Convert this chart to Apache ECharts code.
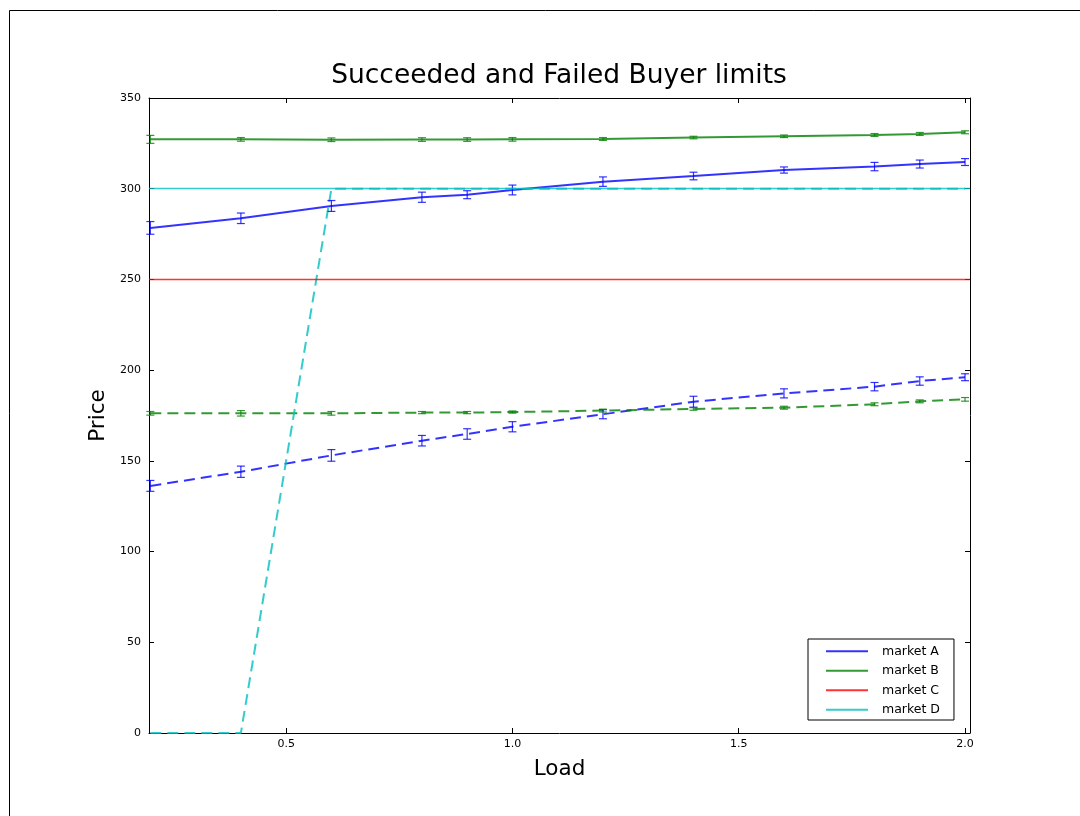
<!DOCTYPE html>
<html>
<head>
<meta charset="utf-8">
<script src="https://cdn.jsdelivr.net/npm/echarts@6/dist/echarts.min.js"></script>
<style>
  html, body { margin: 0; padding: 0; background: #fff; }
  #chart { width: 1080px; height: 816px; }
</style>
</head>
<body>
<div id="chart"></div>
<script>
// Load levels sampled
const loads = [0.2, 0.4, 0.6, 0.8, 0.9, 1.0, 1.2, 1.4, 1.6, 1.8, 1.9, 2.0];

// Succeeded buyer limits (solid) with error half-widths
const aSucc    = [278.4, 283.7, 290.5, 295.3, 296.7, 299.3, 303.9, 307.0, 310.3, 312.2, 313.6, 314.7];
const aSuccErr = [3.5, 2.9, 3.0, 2.8, 2.2, 2.7, 2.6, 2.1, 1.7, 2.3, 2.2, 1.9];
const bSucc    = [327.2, 327.2, 327.0, 327.1, 327.1, 327.2, 327.4, 328.2, 328.9, 329.6, 330.2, 331.1];
const bSuccErr = [2.2, 1.0, 1.0, 1.0, 1.0, 1.0, 0.8, 0.7, 0.7, 0.8, 0.8, 0.8];
const cLevel = 250;
const dLevel = 300;

// Failed buyer limits (dashed) with error half-widths
const aFail    = [136.2, 144.0, 153.0, 161.1, 164.8, 168.8, 175.7, 182.6, 187.2, 190.9, 194.0, 196.1];
const aFailErr = [3.0, 3.1, 3.2, 2.9, 2.9, 2.8, 2.5, 3.0, 2.5, 2.3, 2.3, 1.9];
const bFail    = [176.2, 176.2, 176.2, 176.6, 176.6, 176.9, 177.7, 178.6, 179.3, 181.2, 182.8, 183.9];
const bFailErr = [1.0, 1.5, 1.0, 0.6, 0.6, 0.6, 0.8, 0.7, 0.8, 0.8, 0.8, 1.0];
const dFail    = [0, 0, 300, 300, 300, 300, 300, 300, 300, 300, 300, 300];

// Axis ticks
const xTicks = [0.5, 1.0, 1.5, 2.0];
const legendNames = ['market A', 'market B', 'market C', 'market D'];

const BLUE = 'rgba(0,0,255,0.8)';
const GREEN = 'rgba(0,128,0,0.8)';
const RED = 'rgba(255,0,0,0.8)';
const CYAN = 'rgba(0,191,191,0.8)';
const FONT = 'DejaVu Sans';

function pairs(ys) { return loads.map((x, i) => [x, ys[i]]); }
function errRows(ys, errs) { return loads.map((x, i) => [x, ys[i] - errs[i], ys[i] + errs[i]]); }

function errorBars(name, ys, errs, color) {
  return {
    name: name,
    type: 'custom',
    silent: true,
    z: 3,
    data: errRows(ys, errs),
    renderItem: function (params, api) {
      const x = api.value(0);
      const lo = api.coord([x, api.value(1)]);
      const hi = api.coord([x, api.value(2)]);
      const cap = 4;
      const style = { stroke: color, lineWidth: 1.2, fill: null };
      return {
        type: 'group',
        children: [
          { type: 'line', shape: { x1: lo[0], y1: lo[1], x2: hi[0], y2: hi[1] }, style: style },
          { type: 'line', shape: { x1: lo[0] - cap, y1: lo[1], x2: lo[0] + cap, y2: lo[1] }, style: style },
          { type: 'line', shape: { x1: hi[0] - cap, y1: hi[1], x2: hi[0] + cap, y2: hi[1] }, style: style }
        ]
      };
    }
  };
}

function lineSeries(name, ys, color, dashed, width) {
  return {
    name: name,
    type: 'line',
    data: pairs(ys),
    symbol: 'none',
    color: color,
    z: 2,
    lineStyle: { color: color, width: width, type: dashed ? [11, 6] : 'solid' },
    emphasis: { disabled: true }
  };
}

function levelSeries(name, level, color) {
  return {
    name: name,
    type: 'line',
    data: [],
    symbol: 'none',
    color: color,
    lineStyle: { color: color, width: 1.3 },
    markLine: {
      silent: true,
      symbol: 'none',
      label: { show: false },
      lineStyle: { color: color, width: 1.3, type: 'solid' },
      data: [{ yAxis: level }]
    }
  };
}

const chart = echarts.init(document.getElementById('chart'), null, { renderer: 'canvas' });

const axisLine = { show: true, onZero: false, lineStyle: { color: '#000', width: 1 } };

chart.setOption({
  animation: false,
  backgroundColor: '#fff',
  textStyle: { fontFamily: FONT },
  title: {
    text: 'Succeeded and Failed Buyer limits',
    left: 559,
    textAlign: 'center',
    top: 63,
    padding: 0,
    textStyle: { fontFamily: FONT, fontSize: 26.5, fontWeight: 'normal', color: '#000' }
  },
  graphic: [{
    type: 'rect',
    shape: { x: 9.5, y: 10.5, width: 1200, height: 1000 },
    style: { fill: null, stroke: '#000', lineWidth: 1 },
    silent: true,
    z: -10
  }],
  legend: {
    data: legendNames,
    orient: 'vertical',
    left: 808,
    top: 639,
    padding: [5, 14, 3, 18],
    itemGap: 5,
    itemWidth: 42,
    itemHeight: 2,
    icon: 'rect',
    borderColor: '#000',
    borderWidth: 1,
    borderRadius: 0,
    backgroundColor: '#fff',
    selectedMode: false,
    textStyle: { fontFamily: FONT, fontSize: 12.5, color: '#000', padding: [0, 0, 0, 9], lineHeight: 14.5 }
  },
  grid: { left: 149, top: 98, width: 821, height: 635, containLabel: false },
  xAxis: [{
    type: 'value',
    min: 0.197,
    max: 2.011,
    name: 'Load',
    nameLocation: 'middle',
    nameGap: 25,
    nameTextStyle: { fontFamily: FONT, fontSize: 21.5, color: '#000' },
    axisLine: axisLine,
    axisTick: { show: true, inside: true, length: 5, customValues: xTicks, lineStyle: { color: '#000' } },
    axisLabel: {
      show: true, customValues: xTicks, margin: 6,
      fontFamily: FONT, fontSize: 11, color: '#000',
      formatter: v => v.toFixed(1)
    },
    splitLine: { show: false }
  }, {
    type: 'value',
    position: 'top',
    min: 0.197,
    max: 2.011,
    axisLine: axisLine,
    axisTick: { show: true, inside: true, length: 5, customValues: xTicks, lineStyle: { color: '#000' } },
    axisLabel: { show: false },
    splitLine: { show: false }
  }],
  yAxis: [{
    type: 'value',
    min: 0,
    max: 350,
    interval: 50,
    name: 'Price',
    nameLocation: 'middle',
    nameGap: 38,
    nameTextStyle: { fontFamily: FONT, fontSize: 21.5, color: '#000' },
    axisLine: axisLine,
    axisTick: { show: true, inside: true, length: 5, lineStyle: { color: '#000' } },
    axisLabel: { fontFamily: FONT, fontSize: 11, color: '#000', margin: 8 },
    splitLine: { show: false }
  }, {
    type: 'value',
    position: 'right',
    min: 0,
    max: 350,
    interval: 50,
    axisLine: axisLine,
    axisTick: { show: true, inside: true, length: 5, lineStyle: { color: '#000' } },
    axisLabel: { show: false },
    splitLine: { show: false }
  }],
  series: [
    lineSeries('market A', aSucc, BLUE, false, 2),
    errorBars('market A err', aSucc, aSuccErr, BLUE),
    lineSeries('market B', bSucc, GREEN, false, 2),
    errorBars('market B err', bSucc, bSuccErr, GREEN),
    levelSeries('market C', cLevel, RED),
    levelSeries('market D', dLevel, CYAN),
    lineSeries('market A failed', aFail, BLUE, true, 2),
    errorBars('market A failed err', aFail, aFailErr, BLUE),
    lineSeries('market B failed', bFail, GREEN, true, 2),
    errorBars('market B failed err', bFail, bFailErr, GREEN),
    lineSeries('market D failed', dFail, CYAN, true, 2)
  ]
});
</script>
</body>
</html>
